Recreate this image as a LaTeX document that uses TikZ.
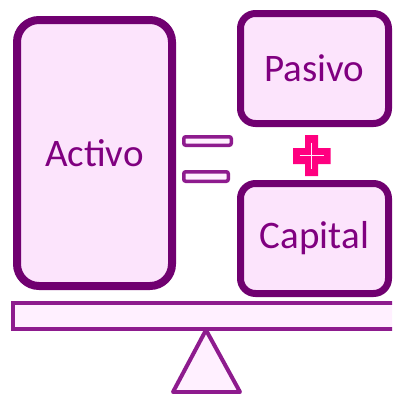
\documentclass[tikz,border=0pt]{standalone}
\usepackage{fontspec}
\setmainfont{Carlito}
\usepackage{xcolor}
\usepackage{tikz}
\usetikzlibrary{positioning,shapes,shadows}
\definecolor{boxline}{RGB}{112,0,112}
\definecolor{boxfill}{RGB}{252,228,252}
\definecolor{boxtext}{RGB}{128,0,128}
\definecolor{beamline}{RGB}{142,27,142}
\definecolor{beamfill}{RGB}{255,240,255}
\definecolor{plusfill}{RGB}{255,0,128}
\tikzstyle{account} = [rectangle, draw=boxline, fill=boxfill, text=boxtext, font=\fontsize{39}{44}\selectfont,
    drop shadow={opacity=0.25, shadow xshift=2pt, shadow yshift=-3pt}]
\tikzstyle{eqbar} = [rectangle, draw=beamline, fill=beamfill, line width=3.5pt, rounded corners=2pt, inner sep=0pt]
\tikzstyle{beam} = [rectangle, draw=beamline, fill=beamfill, line width=4pt, inner sep=0pt]
\tikzstyle{plus} = [fill=plusfill]

\begin{document}
\begin{tikzpicture}[x=1pt, y=-1pt]
        \clip (0,0) rectangle (392,394);
        % Place nodes
        \node at (94.5, 153) [account, line width=8pt, rounded corners=22pt, minimum width=155pt, minimum height=266pt] (activo) {Activo};
        \node at (314.5, 68.5) [account, line width=7pt, rounded corners=15pt, minimum width=148pt, minimum height=110pt] (pasivo) {Pasivo};
        \node at (314.5, 238.5) [account, line width=7pt, rounded corners=15pt, minimum width=148pt, minimum height=110pt] (capital) {Capital};
        \node at (207.5, 141) [eqbar, minimum width=47.5pt, minimum height=8.5pt] (eqtop) {};
        \node at (206, 176.5) [eqbar, minimum width=44.5pt, minimum height=9.5pt] (eqbot) {};
        \node at (207, 316) [beam, minimum width=388pt, minimum height=26pt] (plank) {};
        \coordinate (pivot) at (206, 330);
        \coordinate (plus) at (311.5, 155.5);

        % Draw plus sign
        \path [plus] (plus) ++(-6.5,-20.5) -- ++(13,0) -- ++(0,13) -- ++(12.5,0) -- ++(0,16) -- ++(-12.5,0)
            -- ++(0,12) -- ++(-13,0) -- ++(0,-12) -- ++(-12,0) -- ++(0,-16) -- ++(12,0) -- cycle;
        \draw [beamfill, line width=1pt] (plus) ++(0,-13) -- ++(0,26) (plus) ++(-12,0) -- ++(24,0);

        % Draw stand
        \draw [beamline, fill=beamfill, line width=4pt, line join=round] (pivot) -- ++(-33,62) -- ++(67,0) -- cycle;
    \end{tikzpicture}
\end{document}
